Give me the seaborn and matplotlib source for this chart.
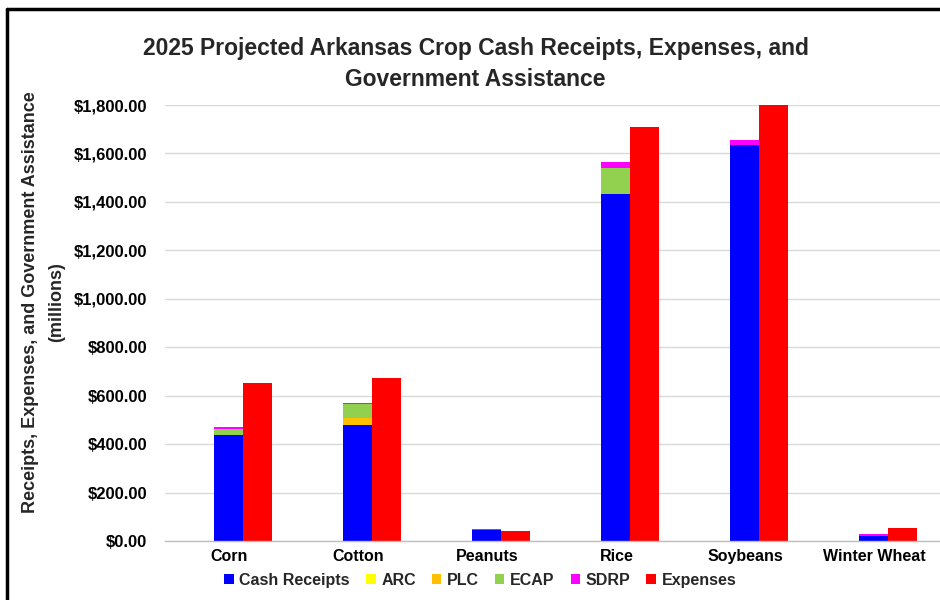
import matplotlib
matplotlib.use("Agg")
import matplotlib.pyplot as plt
from matplotlib.lines import Line2D
from matplotlib.patches import Patch
from matplotlib.ticker import FuncFormatter
import numpy as np
import pandas as pd
import seaborn as sns

# Values in millions of dollars
crops = ["Corn", "Cotton", "Peanuts", "Rice", "Soybeans", "Winter Wheat"]
cash_receipts = [437, 477, 45, 1431, 1635, 22]
arc = [0, 0, 0, 0, 0, 0]
plc = [0, 29, 0, 0, 0, 0]
ecap = [25, 58, 2, 110, 0, 0]
sdrp = [10, 6, 3, 22, 19, 5]
expenses = [651, 675, 40, 1708, 1800, 55]

layer_names = ["Cash Receipts", "ARC", "PLC", "ECAP", "SDRP"]
layer_values = [cash_receipts, arc, plc, ecap, sdrp]
colors = {
    "Cash Receipts": "#0000FF",
    "ARC": "#FFFF00",
    "PLC": "#FFC000",
    "ECAP": "#92D050",
    "SDRP": "#FF00FF",
    "Expenses": "#FF0000",
}

sns.set_theme(style="white")
plt.rcParams["font.family"] = ["Liberation Sans", "DejaVu Sans"]

fig = plt.figure(figsize=(9.4, 6.0), dpi=100)
ax = fig.add_axes([0.1755, 0.0983, 0.8245, 0.7267])

# cumulative tops of the receipts/assistance stack
cum = np.cumsum(np.array(layer_values, dtype=float), axis=0)

# draw from the tallest cumulative layer down so lower layers sit on top
for i in range(len(layer_names) - 1, -1, -1):
    df = pd.DataFrame({
        "crop": crops * 2,
        "side": ["Stack"] * len(crops) + ["Expenses"] * len(crops),
        "value": list(cum[i]) + list(expenses),
    })
    sns.barplot(
        data=df, x="crop", y="value", hue="side",
        hue_order=["Stack", "Expenses"],
        palette={"Stack": colors[layer_names[i]], "Expenses": colors["Expenses"]},
        order=crops, width=0.45, gap=0, saturation=1, errorbar=None,
        linewidth=0, legend=False, ax=ax,
    )

ax.set_xlim(-0.605, 5.403)
ax.set_ylim(0, 1800)
# category labels sit slightly left of the bar pairs
ax.set_xticks(np.arange(len(crops)) - 0.105)
ax.set_xticklabels(crops)
ax.set_yticks(np.arange(0, 1801, 200))
ax.yaxis.set_major_formatter(FuncFormatter(lambda v, p: f"${v:,.2f}"))
ax.grid(axis="y", color="#d9d9d9", linewidth=1.0)
ax.set_axisbelow(True)
for s in ["left", "right", "top"]:
    ax.spines[s].set_visible(False)
ax.spines["bottom"].set_color("#bfbfbf")
ax.spines["bottom"].set_linewidth(1.0)
ax.tick_params(axis="both", length=0, colors="black")
ax.tick_params(axis="y", pad=13, labelsize=12)
ax.tick_params(axis="x", pad=6, labelsize=11.5)
for lab in ax.get_xticklabels() + ax.get_yticklabels():
    lab.set_fontweight("bold")
ax.set_xlabel("")
ax.set_ylabel("")

fig.text(0.032, 0.497, "Receipts, Expenses, and Government Assistance",
         rotation=90, ha="center", va="center", fontsize=13, fontweight="bold")
fig.text(0.060, 0.497, "(millions)",
         rotation=90, ha="center", va="center", fontsize=13, fontweight="bold")

fig.text(0.506, 0.894, "2025 Projected Arkansas Crop Cash Receipts, Expenses, and\nGovernment Assistance",
         ha="center", va="center", fontsize=16.5, fontweight="bold",
         linespacing=1.45)

handles = [Patch(facecolor=colors[n], edgecolor="none") for n in layer_names + ["Expenses"]]
leg = fig.legend(handles, layer_names + ["Expenses"], loc="center",
                 bbox_to_anchor=(0.511, 0.033), ncol=6, frameon=False,
                 handlelength=0.6, handleheight=0.6, handletextpad=0.35,
                 columnspacing=1.0, prop={"size": 11.5, "weight": "bold"})

# outer frame
fig.add_artist(Line2D([0.0075, 0.0075], [0.0, 0.985], transform=fig.transFigure,
                      color="black", linewidth=2.5))
fig.add_artist(Line2D([0.0075, 1.0], [0.985, 0.985], transform=fig.transFigure,
                      color="black", linewidth=2.5))

fig.savefig("out.png", dpi=100)
